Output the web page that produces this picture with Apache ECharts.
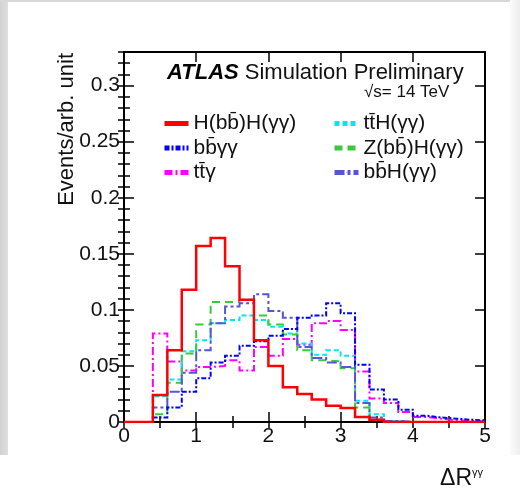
<!DOCTYPE html>
<html><head><meta charset="utf-8">
<script src="https://cdn.jsdelivr.net/npm/echarts@6/dist/echarts.min.js"></script>
<style>
html,body{margin:0;padding:0;background:#fff;}
#wrap{position:relative;width:520px;height:491px;overflow:hidden;background:#fff;}
.strip{position:absolute;}
#chart{position:absolute;left:0;top:0;width:520px;height:491px;}
</style></head><body>
<div id="wrap">
<div class="strip" style="left:0;top:0;width:8px;height:455px;background:linear-gradient(to right,#d3d3d3,#dedede);"></div>
<div class="strip" style="left:0;top:0;width:520px;height:2px;background:#d8d8d8;"></div>
<div class="strip" style="left:510px;top:0;width:10px;height:455px;background:linear-gradient(to right,#fbfbfb,#eeeeee);"></div>
<div id="chart"></div>
</div>
<script>
// Bin edges of the ΔR^γγ histogram (25 bins, width 0.2)
const binEdges = [0.0,0.2,0.4,0.6,0.8,1.0,1.2,1.4,1.6,1.8,2.0,2.2,2.4,2.6,2.8,3.0,3.2,3.4,3.6,3.8,4.0,4.2,4.4,4.6,4.8,5.0];
const xTicks = [0,1,2,3,4,5];
const yTicks = [0,0.05,0.1,0.15,0.2,0.25,0.3];

// Bin contents, one per bin
const hhSignal = [0,0,0.024,0.064,0.118,0.157,0.164,0.139,0.109,0.073,0.050,0.031,0.025,0.020,0.0145,0.0125,0.0045,0.002,0,0,0,0,0,0,0];
const bbyy     = [0,0,0.004,0.013,0.027,0.039,0.053,0.059,0.068,0.072,0.077,0.083,0.093,0.095,0.106,0.097,0.051,0.029,0.020,0.011,0.0055,0.004,0.003,0.002,0.0015];
const tty      = [0,0,0.079,0.054,0.046,0.049,0.050,0.055,0.046,0.067,0.059,0.074,0.069,0.088,0.090,0.082,0.045,0.021,0.017,0.009,0.0045,0.003,0.0015,0.001,0.0005];
const ttH      = [0,0,0.023,0.038,0.063,0.073,0.088,0.091,0.095,0.091,0.085,0.079,0.070,0.060,0.064,0.059,0.019,0.007,0.001,0,0,0,0,0,0];
const zH       = [0,0,0.007,0.035,0.061,0.087,0.107,0.107,0.109,0.095,0.087,0.078,0.064,0.055,0.054,0.048,0.013,0.002,0,0,0,0,0,0,0];
const bbH      = [0,0,0.013,0.027,0.044,0.064,0.088,0.103,0.106,0.114,0.099,0.093,0.067,0.057,0.053,0.049,0.017,0.004,0.001,0,0,0,0,0,0];

const names = ['H(bb\u0304)H(\u03b3\u03b3)','bb\u0304\u03b3\u03b3','tt\u0304\u03b3','tt\u0304H(\u03b3\u03b3)','Z(bb\u0304)H(\u03b3\u03b3)','bb\u0304H(\u03b3\u03b3)'];

const font = '"Liberation Sans", Arial, Helvetica, sans-serif';

function toSteps(vals){ return binEdges.map((x,i)=>[x, vals[Math.min(i, vals.length-1)]]); }

function mk(name, vals, color, type, width, z){
  return {name:name, type:'line', step:'end', symbol:'none', silent:true, z:z,
    xAxisIndex:0, yAxisIndex:0, data:toSteps(vals),
    itemStyle:{color:color},
    lineStyle:{color:color, width:width, type:type, cap:'butt', join:'miter'}};
}

const majorTick = {show:true, inside:true, length:10, lineStyle:{color:'#000', width:1.5}};
const minorTickX = {show:true, inside:true, length:6, lineStyle:{color:'#000', width:1.5}};
const minorTickY = {show:true, inside:true, length:6, lineStyle:{color:'#000', width:1.5}};
const frameLine = {show:true, onZero:false, lineStyle:{color:'#000', width:2}};

const legendCommon = {orient:'vertical', itemWidth:24, itemHeight:1, itemGap:1.5, padding:0, selectedMode:false,
  textStyle:{fontFamily:font, fontSize:21, lineHeight:23, color:'#111'},
  lineStyle:{width:5}};

const chart = echarts.init(document.getElementById('chart'), null, {renderer:'canvas'});
chart.setOption({
  animation:false,
  backgroundColor:'transparent',
  grid:[{left:124, top:52, width:361, height:370},{left:124, top:52, width:361, height:370}],
  xAxis:[
    {gridIndex:0, type:'value', position:'bottom', min:xTicks[0], max:xTicks[xTicks.length-1], interval:1,
      axisLine:frameLine, axisTick:majorTick, splitLine:{show:false},
      axisLabel:{margin:4, color:'#111', fontSize:21, fontFamily:font, showMinLabel:true, showMaxLabel:true}},
    {gridIndex:0, type:'value', position:'top', min:0, max:5, interval:1,
      axisLine:frameLine, axisTick:majorTick, splitLine:{show:false}, axisLabel:{show:false}},
    {gridIndex:1, type:'value', position:'bottom', min:0, max:5, interval:0.5,
      axisLine:{show:false}, axisTick:minorTickX, splitLine:{show:false}, axisLabel:{show:false}},
    {gridIndex:1, type:'value', position:'top', min:0, max:5, interval:0.5,
      axisLine:{show:false}, axisTick:minorTickX, splitLine:{show:false}, axisLabel:{show:false}}
  ],
  yAxis:[
    {gridIndex:0, type:'value', position:'left', min:0, max:0.33, interval:0.05,
      axisLine:frameLine, axisTick:majorTick, splitLine:{show:false},
      axisLabel:{margin:4, color:'#111', fontSize:21, fontFamily:font, showMaxLabel:true,
        formatter:function(v){
          for (const t of yTicks){ if (Math.abs(v-t)<1e-6) return String(t); }
          return '';
        }}},
    {gridIndex:0, type:'value', position:'right', min:0, max:0.33, interval:0.05,
      axisLine:frameLine, axisTick:majorTick, splitLine:{show:false}, axisLabel:{show:false}},
    {gridIndex:1, type:'value', position:'left', min:0, max:0.33, interval:0.01,
      axisLine:{show:false}, axisTick:minorTickY, splitLine:{show:false}, axisLabel:{show:false}},
    {gridIndex:1, type:'value', position:'right', min:0, max:0.33, interval:0.01,
      axisLine:{show:false}, axisTick:minorTickY, splitLine:{show:false}, axisLabel:{show:false}}
  ],
  title:[
    {left:167, top:62, padding:0, text:'{a|ATLAS} {b|Simulation Preliminary}',
      textStyle:{fontFamily:font, fontSize:22, fontWeight:'normal', color:'#111',
        rich:{a:{fontFamily:font, fontSize:22, fontWeight:'bold', fontStyle:'italic', color:'#000'},
              b:{fontFamily:font, fontSize:22, fontWeight:'normal', color:'#111'}}}},
    {left:364, top:84, padding:0, text:'\u221as= 14 TeV',
      textStyle:{fontFamily:font, fontSize:17, fontWeight:'normal', color:'#111'}}
  ],
  legend:[
    Object.assign({left:162, top:112, data:[names[0], names[1], names[2]]}, legendCommon),
    Object.assign({left:332, top:112, data:[names[3], names[4], names[5]]}, legendCommon)
  ],
  graphic:[
    {type:'text', x:67, y:53, rotation:Math.PI/2, silent:true,
      style:{text:'Events/arb. unit', fill:'#111', font:'22px "Liberation Sans", Arial, sans-serif', align:'right', verticalAlign:'middle'}},
    {type:'text', x:483, y:479, silent:true,
      style:{text:'{a|\u0394R}{b|\u03b3\u03b3}', align:'right', verticalAlign:'middle',
        rich:{a:{fontSize:23, fontFamily:font, fill:'#111', color:'#111'},
              b:{fontSize:11, fontFamily:font, fill:'#111', color:'#111', verticalAlign:'top'}}}}
  ],
  series:[
    mk(names[2], tty, '#ff00ff', [8,3,2,3], 2, 2),
    mk(names[3], ttH, '#00e8f0', [5,3], 2, 3),
    mk(names[4], zH, '#3cc83c', [8,5], 2, 4),
    mk(names[5], bbH, '#5555d5', [10,3,3,3], 2, 5),
    mk(names[1], bbyy, '#0000ff', [5,2,2,2], 2, 6),
    mk(names[0], hhSignal, '#ff0000', 'solid', 2.5, 7)
  ]
});
</script>
</body></html>
